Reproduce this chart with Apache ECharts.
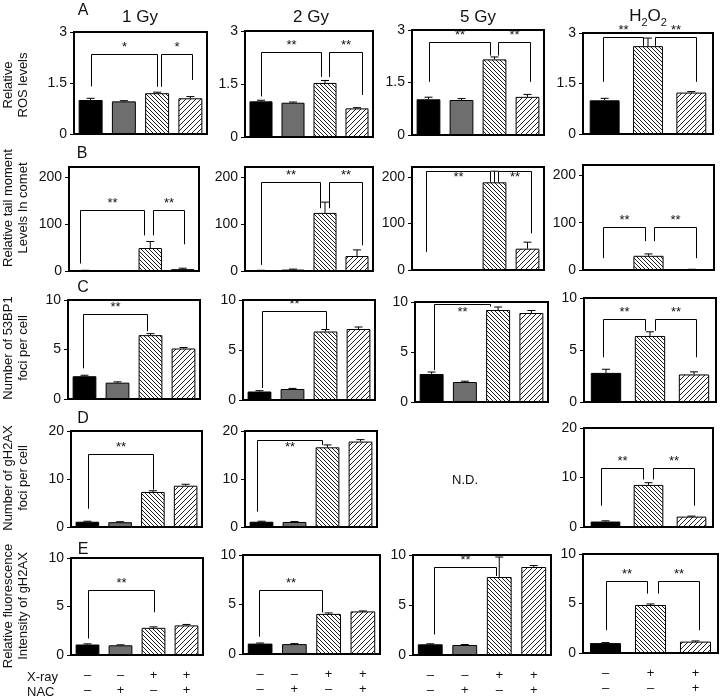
<!DOCTYPE html>
<html>
<head>
<meta charset="utf-8">
<script src="https://cdn.jsdelivr.net/npm/echarts@6/dist/echarts.min.js"></script>
<style>html,body{margin:0;padding:0;background:#fff}#chart{width:721px;height:698px}</style>
</head>
<body>
<div id="chart"></div>
<script>
// ---------------- data ----------------
const columnTitles = ['1 Gy', '2 Gy', '5 Gy', 'H2O2'];
const conditions = ['Control', 'NAC', 'X-ray', 'X-ray+NAC'];
const conditionsH2O2 = ['Control', 'H2O2', 'H2O2+NAC'];
const xrayMarks = ['–', '–', '+', '+'];
const nacMarks = ['–', '+', '–', '+'];
const xrayMarksH2O2 = ['–', '+', '+'];
const nacMarksH2O2 = ['–', '–', '+'];
const rowLetters = ['A', 'B', 'C', 'D', 'E'];
const rowTitles = ['Relative\nROS levels', 'Relative tail moment\nLevels In comet', 'Number of 53BP1\nfoci per cell', 'Number of gH2AX\nfoci per cell', 'Relative fluorescence\nIntensity of gH2AX'];

// Row A: relative ROS levels
const rosValues = [[1.00, 0.96, 1.20, 1.05], [1.01, 0.97, 1.53, 0.81], [1.02, 1.00, 2.16, 1.09], [1.00, 2.61, 1.23]];
const rosErrors = [[0.05, 0.02, 0.03, 0.05], [0.03, 0.02, 0.07, 0.02], [0.06, 0.04, 0.07, 0.07], [0.06, 0.24, 0.03]];
const rosTicks = [0, 1.5, 3];
// Row B: tail moment in comet assay
const tailValues = [[1, 0, 49, 4], [1, 3, 124, 32], [0, 0, 189, 46], [0, 30, 1]];
const tailErrors = [[0.5, 0, 14, 2], [0.5, 1, 23, 13], [0, 0, 24, 14], [0, 4, 0.5]];
const tailTicks = [0, 100, 200];
// Row C: 53BP1 foci per cell
const foci53Values = [[2.3, 1.65, 6.45, 5.1], [0.85, 1.1, 6.85, 7.1], [2.8, 2.0, 9.2, 8.9], [2.8, 6.35, 2.65]];
const foci53Errors = [[0.1, 0.08, 0.15, 0.1], [0.08, 0.06, 0.2, 0.2], [0.2, 0.08, 0.3, 0.25], [0.35, 0.4, 0.25]];
const foci53Ticks = [0, 5, 10];
// Row D: gH2AX foci per cell (5 Gy not determined)
const fociH2AXValues = [[1.1, 1.0, 7.3, 8.6], [1.1, 1.05, 16.6, 17.8], null, [1.1, 8.5, 2.1]];
const fociH2AXErrors = [[0.1, 0.1, 0.25, 0.3], [0.1, 0.1, 0.5, 0.4], null, [0.15, 0.45, 0.1]];
const fociH2AXTicks = [0, 10, 20];
// Row E: relative fluorescence intensity of gH2AX
const fluorValues = [[1.08, 1.0, 2.8, 3.05], [1.05, 1.0, 4.05, 4.3], [1.07, 1.0, 7.8, 8.8], [1.0, 4.85, 1.15]];
const fluorErrors = [[0.07, 0.05, 0.1, 0.1], [0.06, 0.05, 0.1, 0.05], [0.05, 0.05, 2.0, 0.15], [0.05, 0.1, 0.07]];
const fluorTicks = [0, 5, 10];

// significance brackets: [left category pos, right category pos, top value, left leg end, right leg end, label, label value (optional)]
const rosBrackets = [
  [[0, 2, 2.35, 1.4, 1.39, '*'], [2.13, 3.05, 2.35, 1.39, 1.59, '*']],
  [[0, 1.88, 2.41, 1.15, 1.7, '**'], [2.12, 3.15, 2.41, 1.7, 1.19, '**']],
  [[0, 1.86, 2.67, 1.52, 2.27, '**'], [2.12, 3.08, 2.67, 2.27, 1.52, '**']],
  [[-0.05, 0.89, 2.88, 1.55, 2.62, '**'], [1.15, 2.11, 2.88, 2.62, 1.55, '**']]
];
const tailBrackets = [
  [[-0.16, 1.81, 131, 16, 76, '**'], [2.07, 3.05, 131, 76, 57, '**']],
  [[0, 1.84, 189, 13, 134, '**'], [2.12, 3.15, 189, 134, 55, '**']],
  [[-0.08, 1.86, 214, 39, 190, '**', 200], [2.11, 3.1, 214, 190, 79, '**', 200]],
  [[-0.04, 0.93, 90, 25, 61, '**'], [1.13, 2.09, 90, 61, 25, '**']]
];
const foci53Brackets = [
  [[-0.04, 1.88, 8.55, 3.1, 6.85, '**']],
  [[0.07, 2.0, 8.9, 1.2, 7.05, '**']],
  [[0.07, 1.76, 9.8, 3.2, 9.55, '**', 8.95]],
  [[-0.07, 0.89, 8.0, 4.3, 6.85, '**'], [1.11, 2.05, 8.0, 6.85, 4.3, '**']]
];
const fociH2AXBrackets = [
  [[0.03, 2.01, 15.3, 3.8, 7.8, '**']],
  [[-0.15, 1.83, 18.2, 3.2, 17.1, '**', 16.6]],
  null,
  [[-0.11, 0.87, 12.0, 4.3, 9.6, '**'], [1.1, 2.05, 12.0, 9.6, 4.3, '**']]
];
const fluorBrackets = [
  [[0, 2.0, 6.7, 1.7, 4.4, '**']],
  [[-0.04, 1.82, 6.5, 1.75, 4.2, '**']],
  [[0.1, 1.91, 8.8, 2.05, 7.9, '**']],
  [[0.02, 0.93, 7.3, 2.3, 6.0, '**'], [1.16, 2.08, 7.3, 6.0, 2.3, '**']]
];

// ---------------- layout ----------------
const FONT = '"Liberation Sans", Arial, sans-serif';
const boxes = [
  [[74, 32, 207, 134], [245, 31, 373, 137], [412, 30, 544, 135], [583, 33, 713, 134]],
  [[69, 167, 199, 271], [245, 167, 373, 271], [412, 167, 544, 270], [583, 165, 714, 270]],
  [[68, 300, 200, 399], [243, 300, 375, 400], [415, 302, 548, 402], [584, 298, 716, 402]],
  [[71, 431, 202, 527], [245, 431, 377, 527], null, [584, 428, 713, 527]],
  [[71, 558, 203, 657], [243, 555, 380, 654], [413, 555, 551, 656], [583, 554, 718, 653]]
];
const rowMax = [3, 222, 10, 20, 10];
const rows = [
  { values: rosValues, errors: rosErrors, brackets: rosBrackets, ticks: rosTicks },
  { values: tailValues, errors: tailErrors, brackets: tailBrackets, ticks: tailTicks },
  { values: foci53Values, errors: foci53Errors, brackets: foci53Brackets, ticks: foci53Ticks },
  { values: fociH2AXValues, errors: fociH2AXErrors, brackets: fociH2AXBrackets, ticks: fociH2AXTicks },
  { values: fluorValues, errors: fluorErrors, brackets: fluorBrackets, ticks: fluorTicks }
];

function makeHatch(size, dir) {
  const cv = document.createElement('canvas');
  cv.width = size; cv.height = size;
  const ctx = cv.getContext('2d');
  ctx.fillStyle = '#fff'; ctx.fillRect(0, 0, size, size);
  ctx.strokeStyle = '#222'; ctx.lineWidth = 1;
  ctx.beginPath();
  if (dir === 'back') {
    ctx.moveTo(-1, -1); ctx.lineTo(size + 1, size + 1);
    ctx.moveTo(-1, size - 1); ctx.lineTo(1, size + 1);
    ctx.moveTo(size - 1, -1); ctx.lineTo(size + 1, 1);
  } else {
    ctx.moveTo(-1, size + 1); ctx.lineTo(size + 1, -1);
    ctx.moveTo(-1, 1); ctx.lineTo(1, -1);
    ctx.moveTo(size - 1, size + 1); ctx.lineTo(size + 1, size - 1);
  }
  ctx.stroke();
  return { image: cv, repeat: 'repeat' };
}
const hatchBack = makeHatch(4, 'back');
const hatchFwd = makeHatch(5, 'fwd');
const fills4 = ['#000', '#6e6e6e', hatchBack, hatchFwd];
const fills3 = ['#000', hatchBack, hatchFwd];

const grids = [], xAxes = [], yAxes = [], series = [];
rows.forEach((row, r) => {
  for (let c = 0; c < 4; c++) {
    const vals = row.values[c];
    if (!vals) continue;
    const errs = row.errors[c];
    const brs = row.brackets[c] || [];
    const gi = grids.length;
    const [l, t, rr, b] = boxes[r][c];
    const isH = c === 3;
    const cats = isH ? conditionsH2O2 : conditions;
    const xm = isH ? xrayMarksH2O2 : xrayMarks;
    const nm = isH ? nacMarksH2O2 : nacMarks;
    grids.push({ left: l, top: t, width: rr - l, height: b - t, show: true, borderColor: '#000', borderWidth: 2, backgroundColor: 'transparent' });
    xAxes.push({
      type: 'category', gridIndex: gi, data: cats,
      axisLine: { show: false }, axisTick: { show: false },
      axisLabel: r === 4 ? {
        show: true, interval: 0, margin: 13, color: '#111', fontSize: 13, lineHeight: 15, fontFamily: FONT,
        formatter: (v, i) => xm[i] + '\n' + nm[i]
      } : { show: false }
    });
    yAxes.push({
      type: 'value', gridIndex: gi, min: 0, max: rowMax[r],
      axisLine: { show: false }, splitLine: { show: false },
      axisTick: { show: true, inside: false, length: 4, customValues: row.ticks, lineStyle: { color: '#000', width: 1 } },
      axisLabel: { show: true, customValues: row.ticks, margin: 7, color: '#111', fontSize: 14, fontFamily: FONT }
    });
    const fills = isH ? fills3 : fills4;
    series.push({
      type: 'bar', xAxisIndex: gi, yAxisIndex: gi, silent: true,
      barCategoryGap: isH ? '31%' : '28%',
      data: vals.map((v, i) => ({ value: v, itemStyle: { color: fills[i], borderColor: '#000', borderWidth: 1 } }))
    });
    series.push({
      type: 'custom', xAxisIndex: gi, yAxisIndex: gi, silent: true, z: 3,
      data: vals.map((v, i) => [i, v, errs[i]]),
      encode: { x: 0, y: 1 },
      renderItem: (params, api) => {
        const i = api.value(0), v = api.value(1), e = api.value(2);
        if (!e) return null;
        const p0 = api.coord([i, v]);
        const p1 = api.coord([i, v + e]);
        return {
          type: 'group', children: [
            { type: 'line', shape: { x1: p0[0], y1: p0[1], x2: p1[0], y2: p1[1] }, style: { stroke: '#000', lineWidth: 1 } },
            { type: 'line', shape: { x1: p1[0] - 4, y1: p1[1], x2: p1[0] + 4, y2: p1[1] }, style: { stroke: '#000', lineWidth: 1 } }
          ]
        };
      }
    });
    if (brs.length) {
      series.push({
        type: 'custom', xAxisIndex: gi, yAxisIndex: gi, silent: true, z: 4,
        data: brs.map(bk => [Math.round(bk[0]), bk[2]]),
        encode: { x: 0, y: 1 },
        renderItem: (params, api) => {
          const bk = brs[params.dataIndex];
          const base = api.coord([0, 0]);
          const band = api.size([1, 0])[0];
          const X = f => base[0] + f * band;
          const Y = v => api.coord([0, v])[1];
          const xl = Math.round(X(bk[0])) + 0.5, xr = Math.round(X(bk[1])) + 0.5, yt = Math.round(Y(bk[2])) + 0.5;
          const inside = bk[6] != null;
          return {
            type: 'group', children: [
              { type: 'polyline', shape: { points: [[xl, Y(bk[3])], [xl, yt], [xr, yt], [xr, Y(bk[4])]] }, style: { stroke: '#000', lineWidth: 1, fill: null } },
              { type: 'text', style: { text: bk[5], x: (xl + xr) / 2, y: inside ? Y(bk[6]) : yt - 1, align: 'center', verticalAlign: inside ? 'middle' : 'bottom', fontSize: 13, fontFamily: FONT, fill: '#111' } }
            ]
          };
        }
      });
    }
  }
});

// ---------------- texts ----------------
const titleX = [140, 311, 478, 648];
const graphics = [];
columnTitles.forEach((tt, i) => {
  if (tt === 'H2O2') {
    graphics.push({ type: 'text', x: titleX[i], y: 16, style: { text: '{n|H}{s|2}{n|O}{s|2}', align: 'center', verticalAlign: 'middle', rich: { n: { fontSize: 17, lineHeight: 24, fontFamily: FONT, fill: '#111' }, s: { fontSize: 11, lineHeight: 12, verticalAlign: 'bottom', fontFamily: FONT, fill: '#111' } } } });
  } else {
    graphics.push({ type: 'text', x: titleX[i], y: 17, style: { text: tt, align: 'center', verticalAlign: 'middle', fontSize: 17, fontFamily: FONT, fill: '#111' } });
  }
});
const letterPos = [[83, 11], [82, 154], [83, 288], [83, 419], [83, 550]];
rowLetters.forEach((lt, i) => {
  graphics.push({ type: 'text', x: letterPos[i][0], y: letterPos[i][1], style: { text: lt, align: 'center', verticalAlign: 'middle', fontSize: 16, fontFamily: FONT, fill: '#111' } });
});
const rowTitleY = [85, 208, 348, 478, 606];
rowTitles.forEach((tt, i) => {
  graphics.push({ type: 'text', x: 16, y: rowTitleY[i], rotation: Math.PI / 2, style: { text: tt, align: 'center', verticalAlign: 'middle', fontSize: 13, lineHeight: 15, fontFamily: FONT, fill: '#111' } });
});
graphics.push({ type: 'text', x: 27, y: 677, style: { text: 'X-ray', align: 'left', verticalAlign: 'middle', fontSize: 13, fontFamily: FONT, fill: '#111' } });
graphics.push({ type: 'text', x: 27, y: 692, style: { text: 'NAC', align: 'left', verticalAlign: 'middle', fontSize: 13, fontFamily: FONT, fill: '#111' } });
graphics.push({ type: 'text', x: 465, y: 480, style: { text: 'N.D.', align: 'center', verticalAlign: 'middle', fontSize: 13, fontFamily: FONT, fill: '#111' } });

const chart = echarts.init(document.getElementById('chart'), null, { renderer: 'canvas' });
chart.setOption({
  animation: false,
  backgroundColor: '#fff',
  grid: grids, xAxis: xAxes, yAxis: yAxes, series: series,
  graphic: graphics
});
</script>
</body>
</html>
